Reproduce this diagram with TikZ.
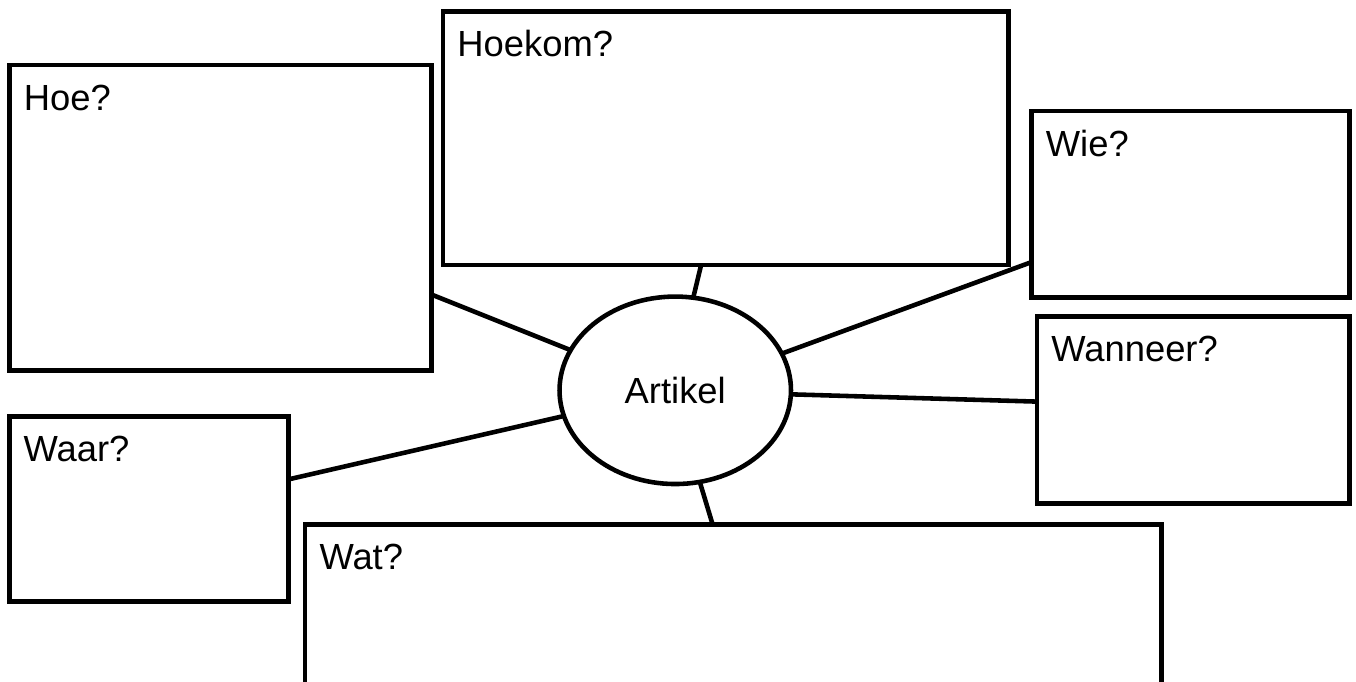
\documentclass[tikz,border=0pt]{standalone}
\usepackage{fontspec}
\setmainfont{Liberation Sans}
\usetikzlibrary{shapes.geometric}
\begin{document}
\begin{tikzpicture}[x=0.02cm,y=-0.02cm,
    vak/.style={draw,rectangle,line width=2.6pt,inner sep=0pt,outer sep=0pt},
    vraag/.style={anchor=base west,inner sep=0pt,xshift=0.28cm,yshift=-0.9cm,font=\fontsize{20.7}{24}\selectfont},
    lijn/.style={line width=2.6pt}]
    \useasboundingbox (0,0) rectangle (1356,682);
    % vakken
    \node[vak,minimum width=8.44cm,minimum height=6.11cm] (hoe) at (220.5,217.75) {};
    \node[vraag] at (hoe.north west) {Hoe?};
    \node[vak,minimum width=11.31cm,minimum height=5.07cm] (hoekom) at (725.75,138.25) {};
    \node[vraag] at (hoekom.north west) {Hoekom?};
    \node[vak,minimum width=6.36cm,minimum height=3.73cm] (wie) at (1190.5,204.25) {};
    \node[vraag] at (wie.north west) {Wie?};
    \node[vak,minimum width=6.25cm,minimum height=3.74cm] (wanneer) at (1193.25,409.8) {};
    \node[vraag] at (wanneer.north west) {Wanneer?};
    \node[vak,minimum width=5.58cm,minimum height=3.7cm] (waar) at (148.75,509.1) {};
    \node[vraag] at (waar.north west) {Waar?};
    \node[vak,minimum width=17.13cm,minimum height=3.9cm] (wat) at (733.35,622) {};
    \node[vraag] at (wat.north west) {Wat?};
    % middel
    \node[draw,ellipse,line width=2.6pt,inner sep=0pt,outer sep=0pt,minimum width=4.63cm,minimum height=3.75cm,font=\fontsize{20.7}{24}\selectfont] (artikel) at (675.25,390.3) {Artikel};
    % lijnen
    \draw[lijn] (hoe.-20.8) -- (artikel.159);
    \draw[lijn] (hoekom.-101.6) -- (artikel.79.1);
    \draw[lijn] (wie.-160.7) -- (artikel.19.6);
    \draw[lijn] (wanneer.177.6) -- (artikel.-2);
    \draw[lijn] (waar.12.8) -- (artikel.-167.6);
    \draw[lijn] (wat.102.4) -- (artikel.-75.6);
\end{tikzpicture}
\end{document}
